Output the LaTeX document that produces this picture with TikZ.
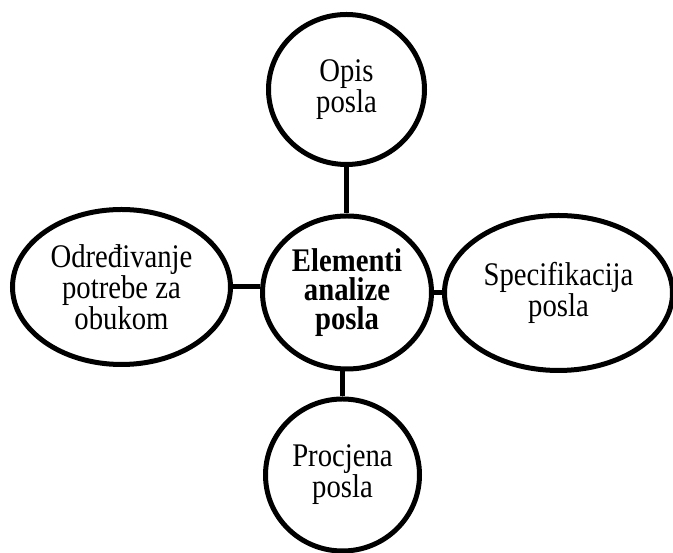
\documentclass[tikz,border=0pt]{standalone}
\usepackage{fontspec}
\setmainfont[FakeStretch=0.87]{Liberation Serif}
\usetikzlibrary{shapes.geometric,calc}

\begin{document}
\begin{tikzpicture}[x=1pt,y=1pt,
  bubble/.style={ellipse,draw,line width=5pt,inner sep=0pt,align=center,
    font=\fontsize{33}{29}\selectfont},
  link/.style={line width=5pt}]
  \useasboundingbox (0,0) rectangle (673,553);
  % Center
  \node[bubble,minimum width=169,minimum height=153,
    font=\fontsize{33}{29}\selectfont\bfseries] (elem) at (347,260.5) {Elementi\\analize\\posla};
  % Outer bubbles
  \node[bubble,minimum width=156,minimum height=150] (opis) at (346.5,463.5) {Opis\\posla};
  \node[bubble,minimum width=218,minimum height=155] (obuka) at (121.5,266) {Određivanje\\potrebe za\\obukom};
  \node[bubble,minimum width=228,minimum height=155] (spec) at (558.5,260) {Specifikacija\\posla};
  \node[bubble,minimum width=154,minimum height=152] (procj) at (342.5,78) {Procjena\\posla};
  % Links
  \draw[link] (opis.south) -- (opis.south |- elem.north);
  \draw[link] (obuka.east) -- (obuka.east -| elem.west);
  \draw[link] (elem.east) -- (elem.east -| spec.west);
  \draw[link] (procj.north) -- (procj.north |- elem.south);
\end{tikzpicture}
\end{document}
